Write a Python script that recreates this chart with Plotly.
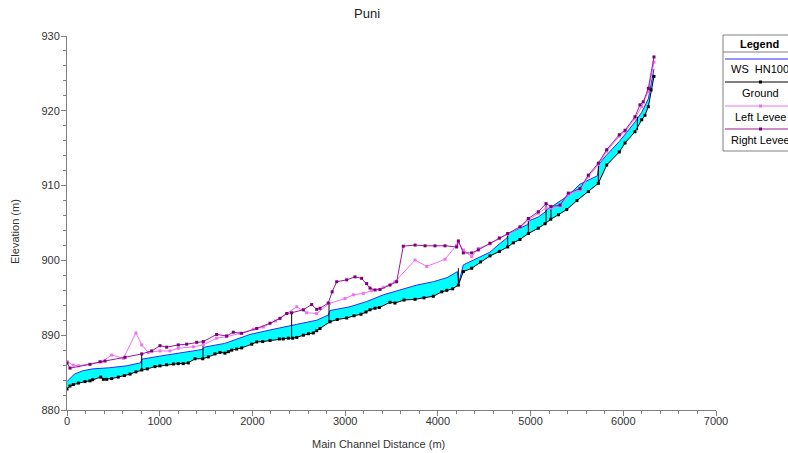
import plotly.graph_objects as go

# ---- profile data (main channel station in m, elevation in m) ----
ground_sta = [0, 32, 68, 122, 194, 248, 277, 363, 392, 428,
              482, 553, 618, 680, 744, 806, 866, 949, 1003, 1075,
              1147, 1200, 1254, 1308, 1381, 1464, 1524, 1596, 1650, 1704,
              1740, 1776, 1830, 1884, 1992, 2046, 2111, 2190, 2290, 2333,
              2387, 2434, 2478, 2549, 2603, 2657, 2693, 2729, 2837, 2915,
              3017, 3096, 3171, 3225, 3268, 3322, 3369, 3484, 3538, 3635,
              3754, 3851, 3951, 4042, 4096, 4160, 4221, 4275, 4365, 4460,
              4562, 4663, 4753, 4814, 4886, 4976, 5083, 5156, 5217, 5300,
              5390, 5500, 5623, 5731, 5821, 5957, 6019, 6126, 6199, 6234,
              6270, 6300, 6331]
ground_elev = [882.8, 883.2, 883.4, 883.6, 883.8, 883.9, 884.05, 884.4, 884.1, 884.1,
               884.2, 884.4, 884.6, 884.8, 885.1, 885.35, 885.5, 885.8, 885.9, 886.05,
               886.15, 886.2, 886.2, 886.3, 886.85, 886.85, 887.1, 887.5, 887.7, 887.6,
               887.8, 888.0, 888.15, 888.3, 888.8, 889.1, 889.15, 889.3, 889.5, 889.5,
               889.6, 889.6, 889.7, 890.0, 890.2, 890.3, 890.6, 890.9, 891.8, 892.1,
               892.3, 892.6, 892.8, 893.1, 893.4, 893.6, 893.7, 894.4, 894.3, 894.7,
               894.8, 895.0, 895.2, 895.8, 896.0, 896.2, 896.7, 898.5, 898.95, 899.8,
               900.6, 901.2, 901.8, 902.35, 902.8, 903.6, 904.3, 904.9, 905.5, 906.1,
               906.8, 908.0, 909.2, 910.3, 912.75, 914.5, 915.7, 917.2, 918.8, 919.4,
               920.55, 922.8, 924.6]

ws_sta = [0, 30, 80, 170, 280, 460, 640, 790, 810, 1000,
          1180, 1360, 1460, 1480, 1700, 1830, 1974, 2190, 2333, 2420,
          2478, 2693, 2818, 2837, 3052, 3232, 3412, 3592, 3772, 3951,
          4100, 4210, 4225, 4275, 4365, 4562, 4663, 4745, 4760, 4814,
          4970, 4985, 5083, 5160, 5175, 5217, 5400, 5533, 5720, 5740,
          5821, 5957, 6126, 6199, 6270, 6331]
ws_elev = [883.8, 884.2, 884.8, 885.25, 885.5, 885.65, 885.9, 886.3, 886.8, 887.2,
           887.6, 887.9, 888.1, 888.4, 888.9, 889.5, 890.1, 890.7, 891.1, 891.35,
           891.45, 892.0, 892.7, 893.3, 893.8, 894.5, 895.4, 896.05, 896.7, 897.15,
           897.7, 898.5, 897.0, 899.4, 899.9, 901.1, 902.2, 903.0, 903.6, 903.9,
           904.8, 905.3, 905.8, 906.5, 906.8, 907.1, 908.6, 910.2, 911.3, 912.9,
           914.1, 915.9, 918.5, 919.8, 921.6, 925.6]

left_levee_sta = [3, 68, 122, 374, 482, 608, 744, 806, 877, 1003,
                  1111, 1200, 1362, 1470, 1614, 1722, 1866, 2009, 2118, 2250,
                  2370, 2478, 2585, 2693, 2829, 2998, 3088, 3196, 3286, 3412,
                  3538, 3754, 3880, 4077, 4203, 4221, 4275, 4365, 4436, 4562,
                  4663, 4753, 4886, 4976, 5083, 5167, 5220, 5318, 5407, 5533,
                  5623, 5731, 5821, 5957, 6019, 6126, 6199, 6270, 6331]
left_levee_elev = [886.45, 886.0, 885.9, 886.45, 887.35, 886.9, 890.3, 888.7, 887.7, 887.9,
                   887.9, 888.25, 888.45, 888.7, 889.6, 889.8, 890.25, 890.8, 891.1, 891.9,
                   892.9, 893.8, 893.0, 892.9, 894.25, 894.9, 895.4, 895.6, 895.95, 896.4,
                   897.15, 900.05, 899.2, 900.15, 902.05, 902.4, 901.4, 900.5, 901.6, 902.2,
                   902.9, 903.5, 904.4, 905.4, 906.3, 907.0, 907.0, 907.3, 908.8, 909.4,
                   911.2, 912.8, 914.6, 916.6, 917.2, 919.0, 920.6, 922.6, 926.5]

right_levee_sta = [0, 32, 248, 356, 410, 626, 806, 914, 1003, 1075, 1200,
                   1291, 1399, 1470, 1614, 1722, 1794, 1884, 2046, 2190, 2297,
                   2370, 2423, 2549, 2639, 2693, 2729, 2818, 2860, 2909, 3017,
                   3106, 3178, 3232, 3268, 3322, 3376, 3484, 3556, 3627, 3754,
                   3862, 3969, 4077, 4203, 4221, 4275, 4365, 4436, 4562, 4663,
                   4753, 4886, 4976, 5083, 5167, 5220, 5318, 5407, 5533, 5623,
                   5731, 5821, 5957, 6019, 6126, 6180, 6215, 6270, 6331]
right_levee_elev = [886.3, 885.6, 886.1, 886.45, 886.55, 887.05, 887.5, 887.9, 888.6, 888.4, 888.7,
                    888.8, 889.05, 889.15, 890.1, 889.9, 890.4, 890.25, 890.9, 891.6, 892.25,
                    892.9, 893.0, 893.4, 894.1, 893.45, 893.6, 894.3, 895.8, 897.15, 897.4,
                    897.8, 897.6, 896.9, 896.3, 896.05, 896.1, 896.7, 897.15, 901.9, 902.05,
                    901.95, 901.95, 901.95, 901.8, 902.6, 901.0, 901.0, 901.4, 902.3, 903.0,
                    903.6, 904.5, 905.6, 906.5, 907.6, 907.2, 907.4, 909.0, 909.6, 911.4,
                    913.0, 914.8, 916.8, 917.4, 919.2, 920.8, 921.2, 923.0, 927.2]

# bridges / inline structures: station, base, top
struct_sta = [806, 1467, 2423, 2826, 4221, 4753, 4976, 5167, 5220, 5731, 6152]
struct_low = [885.35, 886.85, 889.6, 891.6, 896.6, 901.8, 903.6, 904.9, 905.5, 910.3, 917.4]
struct_high = [887.5, 889.1, 892.9, 894.4, 898.95, 903.8, 905.4, 907.5, 907.2, 913.0, 919.2]

x_ticks = [0, 1000, 2000, 3000, 4000, 5000, 6000, 7000]
y_ticks = [880, 890, 900, 910, 920, 930]

WS_LINE = "#2B2BFF"
WS_FILL = "#00FFFF"
GROUND = "#000000"
LEFT_LEVEE = "#F070F0"
RIGHT_LEVEE = "#9A1A9A"
FONT = "Liberation Sans, Arial, sans-serif"

W, H = 788, 453
PL, PR, PT, PB = 67, 716, 36, 410


def px(x):
    return (x - PL) / (PR - PL)


def py(y):
    return (PB - y) / (PB - PT)


def label(text, x, y, size=11, color="#000000", angle=0):
    return dict(text=text, x=px(x), y=py(y), xref="paper", yref="paper",
                xanchor="center", yanchor="middle", showarrow=False, textangle=angle,
                font=dict(family=FONT, size=size, color=color))


fig = go.Figure()

# water body between water surface and ground
fig.add_trace(go.Scatter(
    x=ws_sta + ground_sta[::-1], y=ws_elev + ground_elev[::-1],
    fill="toself", fillcolor=WS_FILL, mode="lines",
    line=dict(width=0, color=WS_FILL), hoverinfo="skip", showlegend=False))

fig.add_trace(go.Scatter(x=ws_sta, y=ws_elev, mode="lines", name="WS  HN100",
                         line=dict(color=WS_LINE, width=1), showlegend=False))

sx, sy = [], []
for s, lo, hi in zip(struct_sta, struct_low, struct_high):
    sx += [s, s, None]
    sy += [lo, hi, None]
fig.add_trace(go.Scatter(x=sx, y=sy, mode="lines", line=dict(color="#000000", width=1),
                         showlegend=False, hoverinfo="skip"))

fig.add_trace(go.Scatter(x=left_levee_sta, y=left_levee_elev, mode="lines+markers",
                         name="Left Levee", line=dict(color=LEFT_LEVEE, width=1),
                         marker=dict(symbol="square", size=3, color=LEFT_LEVEE),
                         showlegend=False))
fig.add_trace(go.Scatter(x=right_levee_sta, y=right_levee_elev, mode="lines+markers",
                         name="Right Levee", line=dict(color=RIGHT_LEVEE, width=1),
                         marker=dict(symbol="square", size=3, color="#7A007A"),
                         showlegend=False))
fig.add_trace(go.Scatter(x=ground_sta, y=ground_elev, mode="lines+markers",
                         name="Ground", line=dict(color=GROUND, width=1),
                         marker=dict(symbol="square", size=3, color=GROUND),
                         showlegend=False))

axis_common = dict(showgrid=False, zeroline=False, showline=True, linecolor="#808080",
                   linewidth=1, ticks="outside", ticklen=5, tickcolor="#808080",
                   tickfont=dict(family=FONT, size=11, color="#333333"))

fig.update_xaxes(range=[0, 7000], tickvals=x_ticks, ticktext=[str(v) for v in x_ticks],
                 ticklabelstandoff=-4,
                 minor=dict(dtick=200, tick0=0, ticklen=3, tickcolor="#808080", ticks="outside"),
                 **axis_common)
fig.update_yaxes(range=[880, 930], tickvals=y_ticks, ticktext=[str(v) for v in y_ticks],
                 ticklabelstandoff=-1,
                 minor=dict(dtick=2, tick0=880, ticklen=3, tickcolor="#808080", ticks="outside"),
                 **axis_common)

shapes = []
annotations = [
    label("Puni", 367, 14, size=13, color="#222222"),
    label("Main Channel Distance (m)", 378, 444, color="#333333"),
    label("Elevation (m)", 15, 232, color="#333333", angle=-90),
]

# legend box
box_l, box_r, box_t, box_b = 723, 797, 35, 151
shapes.append(dict(type="rect", xref="paper", yref="paper", x0=px(box_l), x1=px(box_r),
                   y0=py(box_b), y1=py(box_t), line=dict(color="#808080", width=1),
                   fillcolor="white"))
annotations.append(label("<b>Legend</b>", 759, 44))
shapes.append(dict(type="line", xref="paper", yref="paper", x0=px(box_l), x1=px(box_r),
                   y0=py(52), y1=py(52), line=dict(color="#808080", width=1)))

entries = [("WS  HN100", WS_LINE, None, 59, 69),
           ("Ground", GROUND, GROUND, 82, 93),
           ("Left Levee", LEFT_LEVEE, LEFT_LEVEE, 106, 117),
           ("Right Levee", RIGHT_LEVEE, "#7A007A", 129, 140)]
for text, lc, mc, ly, ty in entries:
    shapes.append(dict(type="line", xref="paper", yref="paper", x0=px(box_l + 2),
                       x1=px(box_r), y0=py(ly), y1=py(ly), line=dict(color=lc, width=1)))
    if mc:
        shapes.append(dict(type="rect", xref="paper", yref="paper", x0=px(759), x1=px(762),
                           y0=py(ly + 1.5), y1=py(ly - 1.5), line=dict(width=0),
                           fillcolor=mc))
    annotations.append(label(text, 760, ty))

fig.update_layout(width=W, height=H, margin=dict(l=PL, r=W - PR, t=PT, b=H - PB),
                  plot_bgcolor="white", paper_bgcolor="white", showlegend=False,
                  shapes=shapes, annotations=annotations)

fig.write_html("out.html")
